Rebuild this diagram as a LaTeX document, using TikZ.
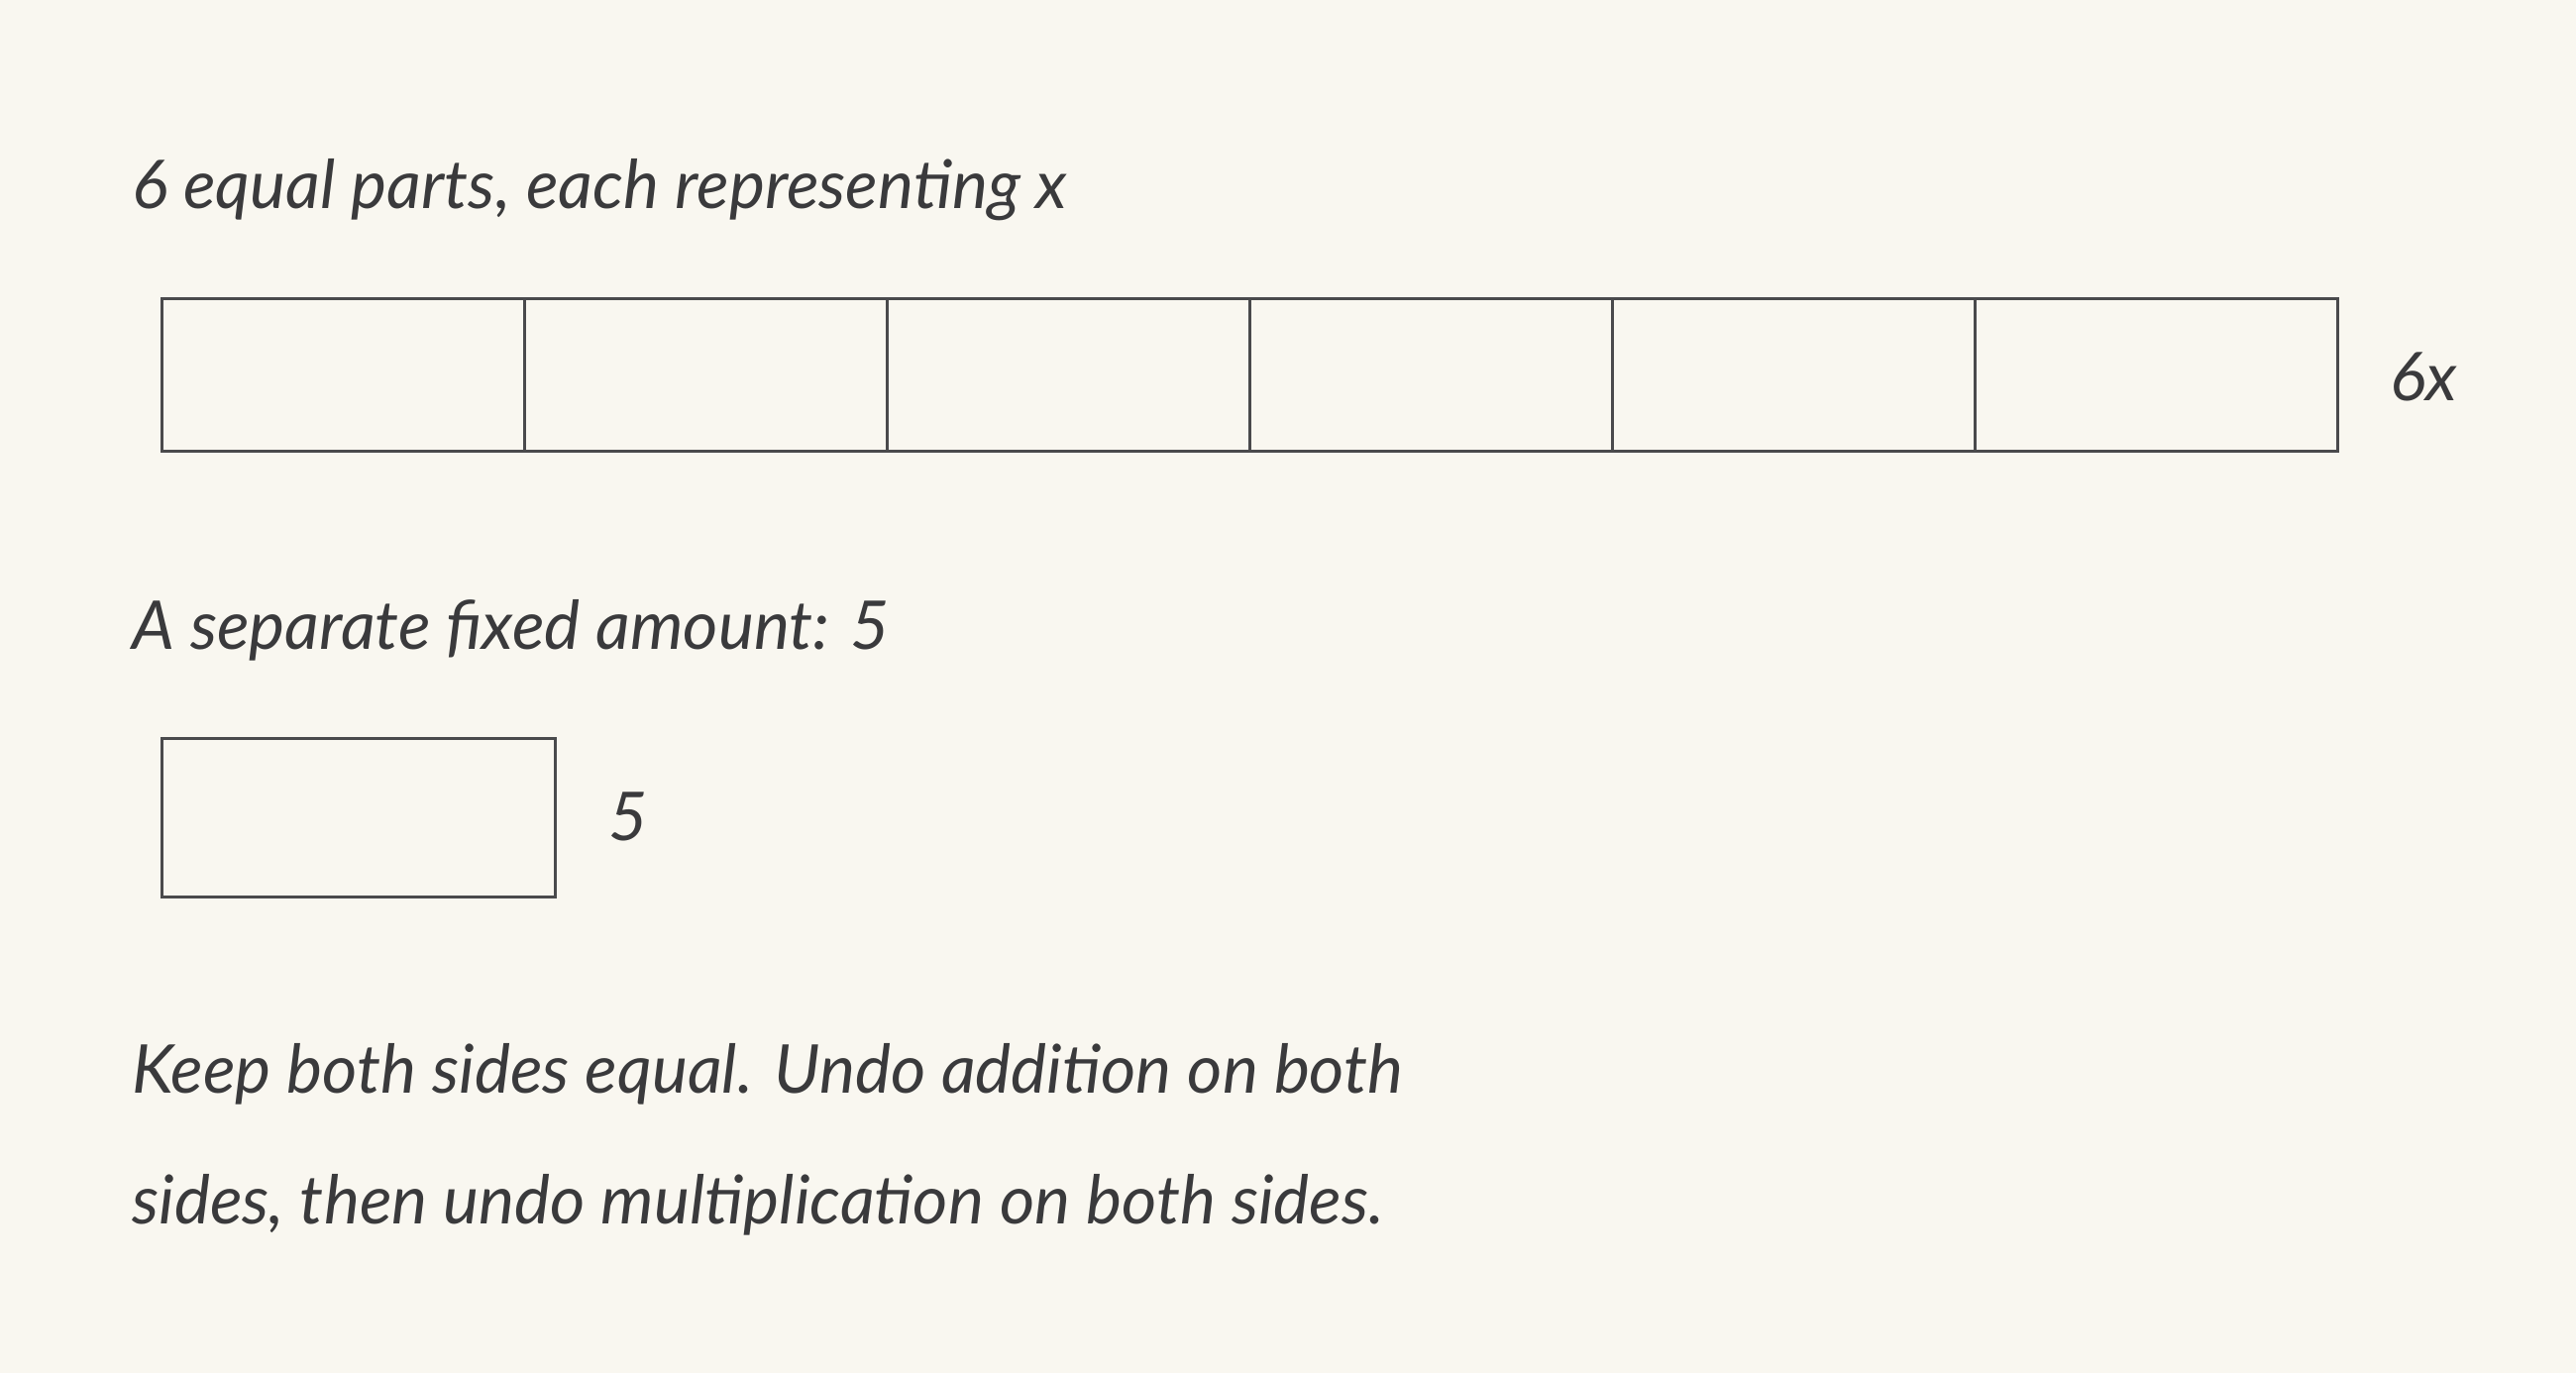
\documentclass[tikz,border=0pt]{standalone}
\usepackage{fontspec}
\setmainfont{Lato}
\definecolor{paper}{HTML}{F9F7F0}
\definecolor{ink}{HTML}{3A3A3C}
\definecolor{pencil}{HTML}{4A4A4C}
\tikzset{
	hand/.style={font=\itshape\fontsize{68}{80}\selectfont,text=ink,inner sep=0pt},
	partbox/.style={draw=pencil,line width=3pt,minimum width=366pt,minimum height=154pt,inner sep=0pt},
}
\begin{document}
\begin{tikzpicture}[x=1pt,y=-1pt]
		\fill[paper] (0,0) rectangle (2600,1386);
		\useasboundingbox (0,0) rectangle (2600,1386);
		% title of the bar
		\node[hand,anchor=base west] (title) at (133,210) {6 equal parts, each representing x};
		% six parts of the bar
		\foreach \i in {1,...,6}
			\node[partbox,anchor=north west] (part\i) at ({162+366*(\i-1)},300) {};
		\node[hand,anchor=west] (sixx) at (2412,380) {6x};
		% the fixed amount
		\node[hand,anchor=base west] (sep) at (133,655) {A separate fixed amount: 5};
		\node[partbox,anchor=north west,minimum width=397pt,minimum height=160pt] (fixed) at (162,744) {};
		\node[hand,anchor=west] (five) at (614,824) {5};
		% hint
		\node[hand,anchor=base west] (keep1) at (133,1103) {Keep both sides equal. Undo addition on both};
		\node[hand,anchor=base west] (keep2) at (133,1235) {sides, then undo multiplication on both sides.};
	\end{tikzpicture}
\end{document}
